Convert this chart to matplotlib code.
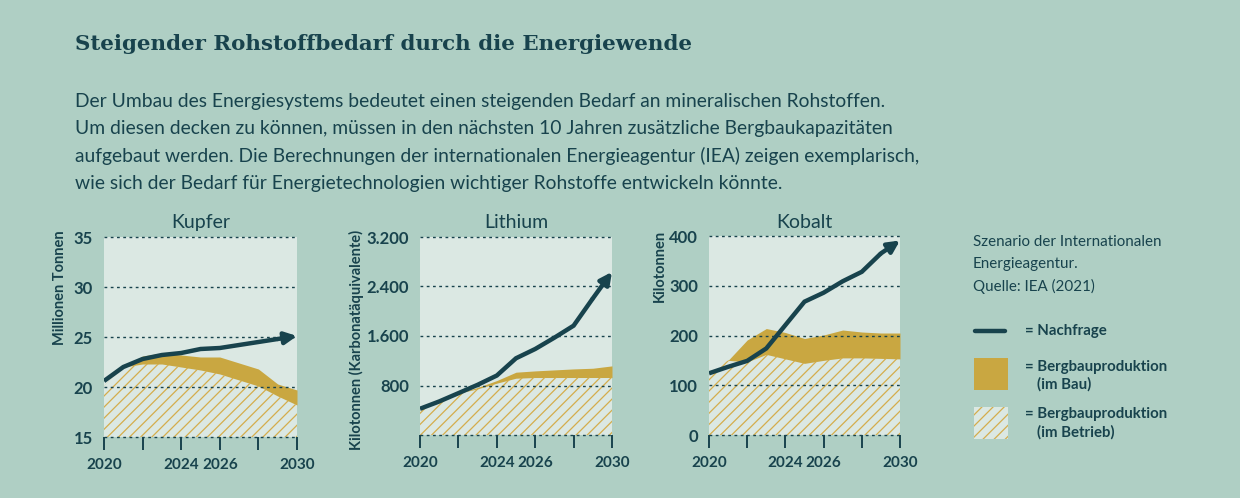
import matplotlib

matplotlib.use("Agg")
import matplotlib.pyplot as plt  # noqa: E402
from matplotlib.patches import Rectangle  # noqa: E402

# --- data ------------------------------------------------------------------
years = [2020, 2021, 2022, 2023, 2024, 2025, 2026, 2027, 2028, 2029, 2030]
xticks = [2020, 2022, 2024, 2026, 2028, 2030]
xtick_labels = ["2020", "", "2024", "2026", "", "2030"]

kupfer_demand = [20.6, 22.0, 22.8, 23.2, 23.4, 23.8, 23.9, 24.2, 24.5, 24.8, 25.1]
kupfer_betrieb = [20.1, 22.0, 22.3, 22.3, 22.0, 21.7, 21.3, 20.7, 20.1, 19.1, 18.2]
kupfer_bau = [20.1, 22.0, 23.1, 23.4, 23.2, 23.0, 23.0, 22.4, 21.8, 20.3, 19.7]

lithium_demand = [424, 542, 676, 811, 961, 1240, 1390, 1573, 1767, 2207, 2636]
lithium_betrieb = [424, 542, 676, 746, 838, 918, 929, 929, 929, 929, 929]
lithium_bau = [424, 542, 676, 768, 880, 1015, 1036, 1052, 1068, 1079, 1117]

kobalt_demand = [124, 137, 149, 174, 221, 268, 286, 309, 328, 365, 391]
kobalt_betrieb = [130, 150, 147, 162, 153, 144, 150, 155, 155, 154, 153]
kobalt_bau = [130, 150, 191, 214, 206, 194, 201, 211, 207, 205, 205]

panels = [
    ("Kupfer", "Millionen Tonnen", [15, 20, 25, 30, 35], ["15", "20", "25", "30", "35"],
     (15, 35), kupfer_demand, kupfer_betrieb, kupfer_bau),
    ("Lithium", "Kilotonnen (Karbonatäquivalente)", [800, 1600, 2400, 3200],
     ["800", "1.600", "2.400", "3.200"], (0, 3200),
     lithium_demand, lithium_betrieb, lithium_bau),
    ("Kobalt", "Kilotonnen", [0, 100, 200, 300, 400], ["0", "100", "200", "300", "400"],
     (0, 400), kobalt_demand, kobalt_betrieb, kobalt_bau),
]

title = "Steigender Rohstoffbedarf durch die Energiewende"
intro = [
    "Der Umbau des Energiesystems bedeutet einen steigenden Bedarf an mineralischen Rohstoffen.",
    "Um diesen decken zu können, müssen in den nächsten 10 Jahren zusätzliche Bergbaukapazitäten",
    "aufgebaut werden. Die Berechnungen der internationalen Energieagentur (IEA) zeigen exemplarisch,",
    "wie sich der Bedarf für Energietechnologien wichtiger Rohstoffe entwickeln könnte.",
]
source_lines = ["Szenario der Internationalen", "Energieagentur.", "Quelle: IEA (2021)"]

# --- style -------------------------------------------------------------------
BG = "#afcfc4"
PANEL = "#dbe8e3"
DARK = "#18434d"
GOLD = "#c9a741"
HATCH = "#d4ad4c"
SANS = ["Lato", "DejaVu Sans"]
W, H = 1240, 498

plt.rcParams["hatch.linewidth"] = 0.9
plt.rcParams["hatch.color"] = HATCH

fig = plt.figure(figsize=(W / 100, H / 100), dpi=100, facecolor=BG)

# overlay in pixel coordinates for text and legend
ov = fig.add_axes([0, 0, 1, 1], zorder=5)
ov.set_xlim(0, W)
ov.set_ylim(H, 0)
ov.axis("off")

ov.text(75, 44, title, family="DejaVu Serif", weight="bold", fontsize=15.4,
        color=DARK, va="center", ha="left")
for i, line in enumerate(intro):
    ov.text(75, 101 + i * 27.5, line, family=SANS, fontsize=13.9, color=DARK,
            va="center", ha="left")

# axes boxes in pixels: left, top, right, bottom
boxes = [(104, 237, 297, 437), (420, 237, 612, 435), (709, 236, 900, 435)]
ylabel_x = [60, 356, 660]

for (name, ylab, yt, ytl, ylim, dem, betr, bau), (l, t, r, b), yx in zip(panels, boxes, ylabel_x):
    ax = fig.add_axes([l / W, 1 - b / H, (r - l) / W, (b - t) / H])
    ax.set_facecolor(PANEL)
    ax.set_xlim(years[0], years[-1])
    ax.set_ylim(*ylim)
    for s in ax.spines.values():
        s.set_visible(False)

    ax.fill_between(years, betr, bau, color=GOLD, lw=0, zorder=2)
    ax.fill_between(years, ylim[0], betr, facecolor="none", edgecolor=HATCH,
                    hatch="///", lw=0, zorder=2)

    for y in sorted(set(yt + [ylim[0], ylim[1]])):
        ax.axhline(y, color=DARK, lw=1, ls=(0, (2, 2.5)), zorder=3, clip_on=False)

    ax.plot(years[:-1], dem[:-1], color=DARK, lw=3.2, solid_capstyle="butt",
            solid_joinstyle="miter", zorder=4)
    ax.annotate("", xy=(years[-1], dem[-1]), xytext=(years[-2], dem[-2]),
                arrowprops=dict(arrowstyle="-|>,head_length=0.7,head_width=0.35",
                                color=DARK, lw=3.2, shrinkA=0, shrinkB=0),
                annotation_clip=False, zorder=4)

    ax.set_xticks(xticks)
    ax.set_xticklabels(xtick_labels)
    ax.set_yticks(yt)
    ax.set_yticklabels(ytl)
    ax.tick_params(axis="x", direction="out", length=9, width=1.4, color=DARK,
                   pad=6, labelsize=11, labelcolor=DARK)
    ax.tick_params(axis="y", length=0, pad=8, labelsize=12, labelcolor=DARK)
    for lab in ax.get_xticklabels() + ax.get_yticklabels():
        lab.set_family(SANS)
        lab.set_weight("bold")

    ov.text((l + r) / 2, 222, name, family=SANS, fontsize=14, color=DARK,
            ha="center", va="center")
    ov.text(yx, 230, ylab, family=SANS, fontsize=10.5, weight="bold", color=DARK,
            rotation=90, ha="center", va="top")

# source note and legend
for i, line in enumerate(source_lines):
    ov.text(973, 242 + i * 22, line, family=SANS, fontsize=10.9, color=DARK,
            ha="left", va="center")

ov.plot([975, 1005], [331, 331], color=DARK, lw=3.2, solid_capstyle="round")
ov.text(1025, 331, "= Nachfrage", family=SANS, fontsize=10.8, weight="bold",
        color=DARK, ha="left", va="center")

ov.add_patch(Rectangle((974, 358), 34, 32, facecolor=GOLD, lw=0))
ov.text(1025, 367, "= Bergbauproduktion", family=SANS, fontsize=10.8, weight="bold",
        color=DARK, ha="left", va="center")
ov.text(1037, 384, "(im Bau)", family=SANS, fontsize=10.8, weight="bold",
        color=DARK, ha="left", va="center")

ov.add_patch(Rectangle((974, 407), 34, 32, facecolor=PANEL, edgecolor=HATCH,
                       hatch="///", lw=0))
ov.text(1025, 414, "= Bergbauproduktion", family=SANS, fontsize=10.8, weight="bold",
        color=DARK, ha="left", va="center")
ov.text(1037, 432, "(im Betrieb)", family=SANS, fontsize=10.8, weight="bold",
        color=DARK, ha="left", va="center")

fig.savefig("out.png", dpi=100, facecolor=BG)
